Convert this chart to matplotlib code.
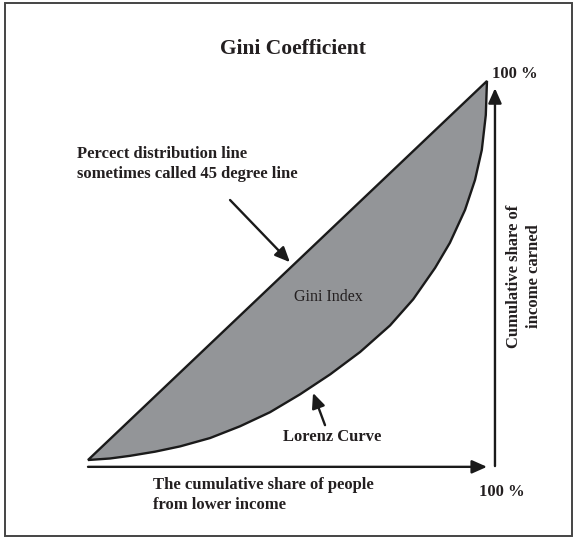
import matplotlib
matplotlib.use("Agg")
import matplotlib.pyplot as plt
from matplotlib.patches import Rectangle

# Lorenz curve (share of people vs share of income)
lorenz_x = [0.0, 0.055, 0.105, 0.168, 0.231, 0.306, 0.381, 0.456, 0.531, 0.607,
            0.682, 0.757, 0.815, 0.870, 0.907, 0.945, 0.970, 0.987, 0.997, 1.0]
lorenz_y = [0.0, 0.004, 0.011, 0.022, 0.036, 0.058, 0.089, 0.126, 0.173, 0.226,
            0.285, 0.355, 0.424, 0.507, 0.573, 0.660, 0.739, 0.818, 0.910, 1.0]
# perfect distribution line
equal_x = [0.0, 1.0]
equal_y = [0.0, 1.0]

title = "Gini Coefficient"
line_label = "Percect distribution line\nsometimes called 45 degree line"
area_label = "Gini Index"
curve_label = "Lorenz Curve"
x_label = "The cumulative share of people\nfrom lower income"
y_label = "Cumulative share of\nincome carned"
end_label = "100 %"

SERIF = ["Liberation Serif", "DejaVu Serif"]

fig = plt.figure(figsize=(5.76, 5.39), dpi=100)
ax = fig.add_axes([0, 0, 1, 1])
ax.set_xlim(-0.2206, 1.2231)
ax.set_ylim(-0.2084, 1.2137)
ax.axis("off")

# frame round the picture
fig.patches.append(Rectangle((5 / 576, 3 / 539), 567 / 576, 533 / 539, transform=fig.transFigure,
                             fill=False, edgecolor="#444444", linewidth=1.4))

# shaded area between the 45 degree line and the Lorenz curve
poly_x = equal_x + lorenz_x[::-1]
poly_y = equal_y + lorenz_y[::-1]
ax.fill(poly_x, poly_y, facecolor="#939598", edgecolor="#1a1a1a", linewidth=1.7, joinstyle="miter")

# axes arrows
arrow_kw = dict(arrowstyle="-|>,head_length=0.9,head_width=0.4", color="#1a1a1a", lw=1.7, shrinkA=0, shrinkB=0)
ax.annotate("", xy=(1.0, -0.018), xytext=(0.0, -0.018), arrowprops=arrow_kw)
ax.annotate("", xy=(1.02, 0.981), xytext=(1.02, -0.016), arrowprops=arrow_kw)

# pointer arrows
ax.annotate("", xy=(0.506, 0.522), xytext=(0.356, 0.686), arrowprops=arrow_kw)
ax.annotate("", xy=(0.564, 0.177), xytext=(0.594, 0.092), arrowprops=arrow_kw)

# texts
ax.text(0.514, 1.085, title, ha="center", va="center", fontsize=15.5, fontweight="bold",
        family=SERIF, color="#231f20")
ax.text(-0.028, 0.781, line_label, ha="left", va="center", fontsize=12, fontweight="bold",
        family=SERIF, color="#231f20", linespacing=1.35)
ax.text(0.602, 0.430, area_label, ha="center", va="center", fontsize=11.5,
        family=SERIF, color="#231f20")
ax.text(0.612, 0.061, curve_label, ha="center", va="center", fontsize=12, fontweight="bold",
        family=SERIF, color="#231f20")
ax.text(0.163, -0.092, x_label, ha="left", va="center", fontsize=12, fontweight="bold",
        family=SERIF, color="#231f20", linespacing=1.35)
ax.text(1.038, -0.084, end_label, ha="center", va="center", fontsize=12, fontweight="bold",
        family=SERIF, color="#231f20")
ax.text(1.070, 1.018, end_label, ha="center", va="center", fontsize=12, fontweight="bold",
        family=SERIF, color="#231f20")
ax.text(1.093, 0.485, y_label, ha="center", va="center", fontsize=12, fontweight="bold",
        family=SERIF, color="#231f20", rotation=90, multialignment="center", linespacing=1.35)

fig.savefig("out.png", dpi=100)
